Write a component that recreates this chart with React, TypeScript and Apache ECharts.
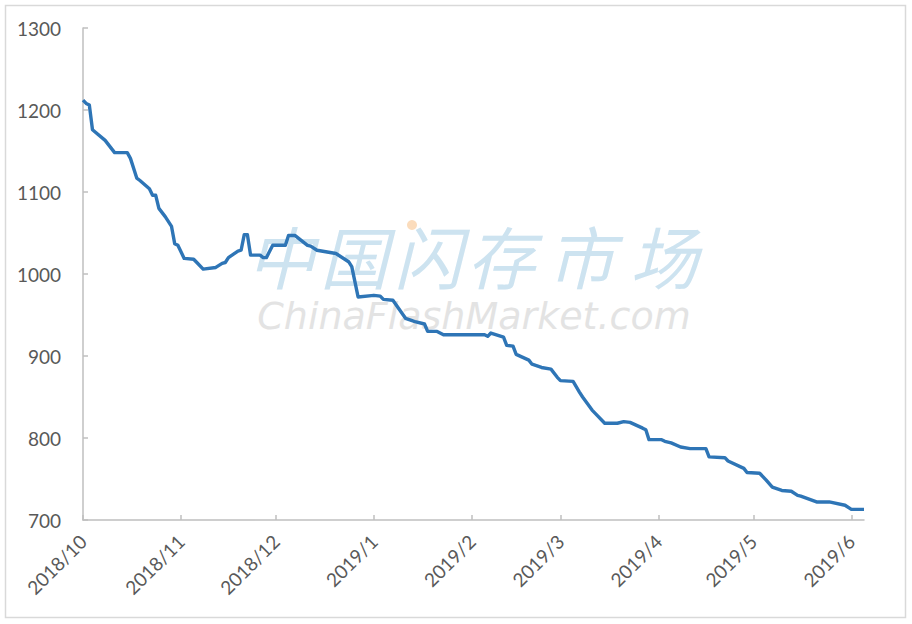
import React, { useEffect, useRef } from 'react';
import * as echarts from 'echarts';

// price points at the dates where the line changes direction
const dates = [
  '2018/10/1', '2018/10/2', '2018/10/3', '2018/10/4', '2018/10/8', '2018/10/11', '2018/10/15',
  '2018/10/16', '2018/10/18', '2018/10/19', '2018/10/22', '2018/10/23', '2018/10/24', '2018/10/25',
  '2018/10/27', '2018/10/29', '2018/10/30', '2018/10/31', '2018/11/2', '2018/11/5', '2018/11/6',
  '2018/11/8', '2018/11/12', '2018/11/14', '2018/11/15', '2018/11/16', '2018/11/19', '2018/11/20',
  '2018/11/21', '2018/11/22', '2018/11/23', '2018/11/26', '2018/11/27', '2018/11/28', '2018/11/30',
  '2018/12/4', '2018/12/5', '2018/12/7', '2018/12/11', '2018/12/12', '2018/12/14', '2018/12/20',
  '2018/12/24', '2018/12/25', '2018/12/27', '2019/1/1', '2019/1/3', '2019/1/4', '2019/1/7',
  '2019/1/11', '2019/1/14', '2019/1/17', '2019/1/18', '2019/1/21', '2019/1/23', '2019/2/5',
  '2019/2/6', '2019/2/7', '2019/2/11', '2019/2/12', '2019/2/14', '2019/2/15', '2019/2/19',
  '2019/2/20', '2019/2/23', '2019/2/26', '2019/2/28', '2019/3/1', '2019/3/5', '2019/3/7',
  '2019/3/8', '2019/3/11', '2019/3/12', '2019/3/15', '2019/3/19', '2019/3/21', '2019/3/23',
  '2019/3/27', '2019/3/28', '2019/3/29', '2019/4/2', '2019/4/3', '2019/4/5', '2019/4/8',
  '2019/4/11', '2019/4/16', '2019/4/17', '2019/4/22', '2019/4/23', '2019/4/28', '2019/4/29',
  '2019/5/3', '2019/5/5', '2019/5/7', '2019/5/10', '2019/5/13', '2019/5/15', '2019/5/16',
  '2019/5/21', '2019/5/25', '2019/5/30', '2019/6/1', '2019/6/5',
];
const prices = [
  1212, 1208, 1206, 1176, 1163, 1148, 1148,
  1141, 1117, 1114, 1104, 1096, 1096, 1080,
  1070, 1058, 1037, 1035, 1019, 1018, 1014,
  1006, 1008, 1013, 1014, 1020, 1028, 1029,
  1048, 1048, 1023, 1023, 1020, 1020, 1035,
  1035, 1047, 1047, 1035, 1034, 1029, 1025,
  1015, 1009, 972, 974, 973, 969, 968,
  946, 942, 939, 930, 930, 926, 926,
  924, 928, 923, 913, 912, 902, 895,
  890, 886, 884, 874, 870, 869, 856,
  850, 834, 830, 818, 818, 820, 819,
  812, 810, 798, 798, 796, 794, 789,
  787, 787, 777, 776, 772, 763, 758,
  757, 749, 740, 736, 735, 730, 729,
  722, 722, 718, 713, 713,
];

const axisStart = '2018/10/1';
const axisEnd = '2019/6/5';

const watermarkChars = ['中', '国', '闪', '存', '市', '场'];
const watermarkUrl = 'ChinaFlashMarket.com';

// one category per day so month starts land where they should
function dayCategories(from: string, to: string): string[] {
  const out: string[] = [];
  const [fy, fm, fd] = from.split('/').map(Number);
  const [ty, tm, td] = to.split('/').map(Number);
  const d = new Date(fy, fm - 1, fd);
  const end = new Date(ty, tm - 1, td);
  while (d <= end) {
    out.push(`${d.getFullYear()}/${d.getMonth() + 1}/${d.getDate()}`);
    d.setDate(d.getDate() + 1);
  }
  return out;
}

const isMonthStart = (_i: number, v: string) => v.endsWith('/1');

export default function App() {
  const ref = useRef<HTMLDivElement>(null);

  useEffect(() => {
    if (!ref.current) return;
    const chart = echarts.init(ref.current, undefined, { renderer: 'svg' });
    const labelFont = { color: '#595959', fontSize: 19, fontFamily: 'Lato, "Open Sans", sans-serif' };
    const charX = [281, 354, 428, 501, 581, 664];

    chart.setOption({
      animation: false,
      backgroundColor: '#fff',
      grid: { left: 83, right: 48, top: 28, bottom: 104 },
      graphic: [
        {
          type: 'rect',
          shape: { x: 5.5, y: 5.5, width: 900, height: 612 },
          style: { fill: 'none', stroke: '#d9d9d9', lineWidth: 1.5 },
          silent: true,
          z: -1,
        },
        ...watermarkChars.map((ch, i) => ({
          type: 'text',
          x: charX[i],
          y: 254,
          z: 0,
          silent: true,
          style: {
            text: ch,
            fill: '#cde3f0',
            fontSize: 68,
            fontStyle: 'italic',
            fontFamily: '"Noto Sans CJK SC", sans-serif',
            align: 'center',
            verticalAlign: 'middle',
          },
        })),
        {
          type: 'circle',
          shape: { cx: 412, cy: 225, r: 5 },
          style: { fill: '#fbdcbc' },
          silent: true,
          z: 1,
        },
        {
          type: 'text',
          x: 474,
          y: 316,
          z: 0,
          silent: true,
          style: {
            text: watermarkUrl,
            fill: '#e3e3e3',
            fontSize: 38,
            fontStyle: 'italic',
            fontFamily: '"DejaVu Sans", sans-serif',
            align: 'center',
            verticalAlign: 'middle',
          },
        },
      ],
      xAxis: {
        type: 'category',
        boundaryGap: false,
        data: dayCategories(axisStart, axisEnd),
        axisLine: { lineStyle: { color: '#bfbfbf', width: 1.5 } },
        axisTick: { inside: true, length: 5, interval: isMonthStart, lineStyle: { color: '#bfbfbf', width: 1.5 } },
        axisLabel: {
          ...labelFont,
          rotate: 45,
          margin: 18,
          interval: isMonthStart,
          formatter: (v: string) => v.split('/').slice(0, 2).join('/'),
        },
        splitLine: { show: false },
      },
      yAxis: {
        type: 'value',
        min: 700,
        max: 1300,
        interval: 100,
        axisLine: { show: true, lineStyle: { color: '#bfbfbf', width: 1.5 } },
        axisTick: { show: true, inside: true, length: 5, lineStyle: { color: '#bfbfbf', width: 1.5 } },
        axisLabel: { ...labelFont, margin: 22, formatter: (v: number) => String(v) },
        splitLine: { show: false },
      },
      series: [
        {
          type: 'line',
          data: dates.map((d, i) => [d, prices[i]]),
          showSymbol: false,
          lineStyle: { color: '#2e75b6', width: 3.4, join: 'round' },
          z: 3,
        },
      ],
    });

    return () => chart.dispose();
  }, []);

  return <div ref={ref} style={{ width: 912, height: 624, position: 'absolute', left: 0, top: 0 }} />;
}
